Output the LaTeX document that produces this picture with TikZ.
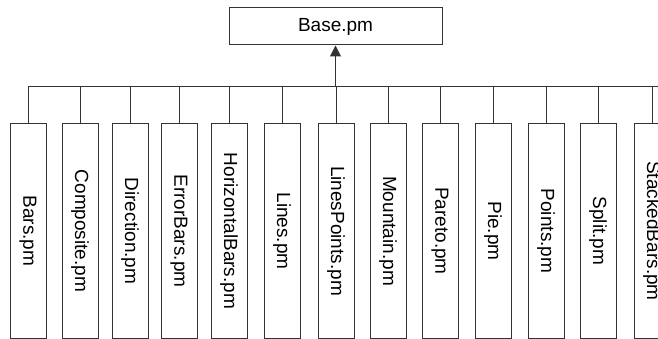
\documentclass[tikz,border=0pt]{standalone}
\usepackage{fontspec}
\setmainfont{Liberation Sans}
\usepackage{graphicx}
\usetikzlibrary{arrows.meta}

\tikzset{
  modbox/.style={draw=black!80, line width=1pt, minimum width=36pt, minimum height=214pt, inner sep=0pt},
  basebox/.style={draw=black!80, line width=1pt, minimum width=213pt, minimum height=37pt, inner sep=0pt},
  link/.style={draw=black!80, line width=1pt}
}

\begin{document}
\begin{tikzpicture}[x=1pt, y=-1pt, font=\fontsize{19}{22}\selectfont]
                \clip (0,0) rectangle (658,339);
                \useasboundingbox (0,0) rectangle (658,339);
                \node[basebox] (base) at (335.5,26.5) {Base.pm};
                \coordinate (busend) at (658,87);
                \foreach \x/\n/\t in {28/bars/Bars.pm, 80/composite/Composite.pm, 130/direction/Direction.pm,
                    179/errorbars/ErrorBars.pm, 229/horizontalbars/HorizontalBars.pm, 282/lines/Lines.pm,
                    336/linespoints/LinesPoints.pm, 388/mountain/Mountain.pm, 440/pareto/Pareto.pm,
                    493/pie/Pie.pm, 546/points/Points.pm, 598/split/Split.pm, 652/stackedbars/StackedBars.pm}
                {
                    \node[modbox] (\n) at (\x,231) {\rotatebox{-90}{\t}};
                    \draw[link] (\n.north) -- (\n.north |- busend);
                }
                \draw[link] (bars.north |- busend) -- (busend);
                \draw[link, -{Triangle[length=11pt, width=11pt]}] (base |- busend) -- (base.south);
            \end{tikzpicture}
\end{document}
